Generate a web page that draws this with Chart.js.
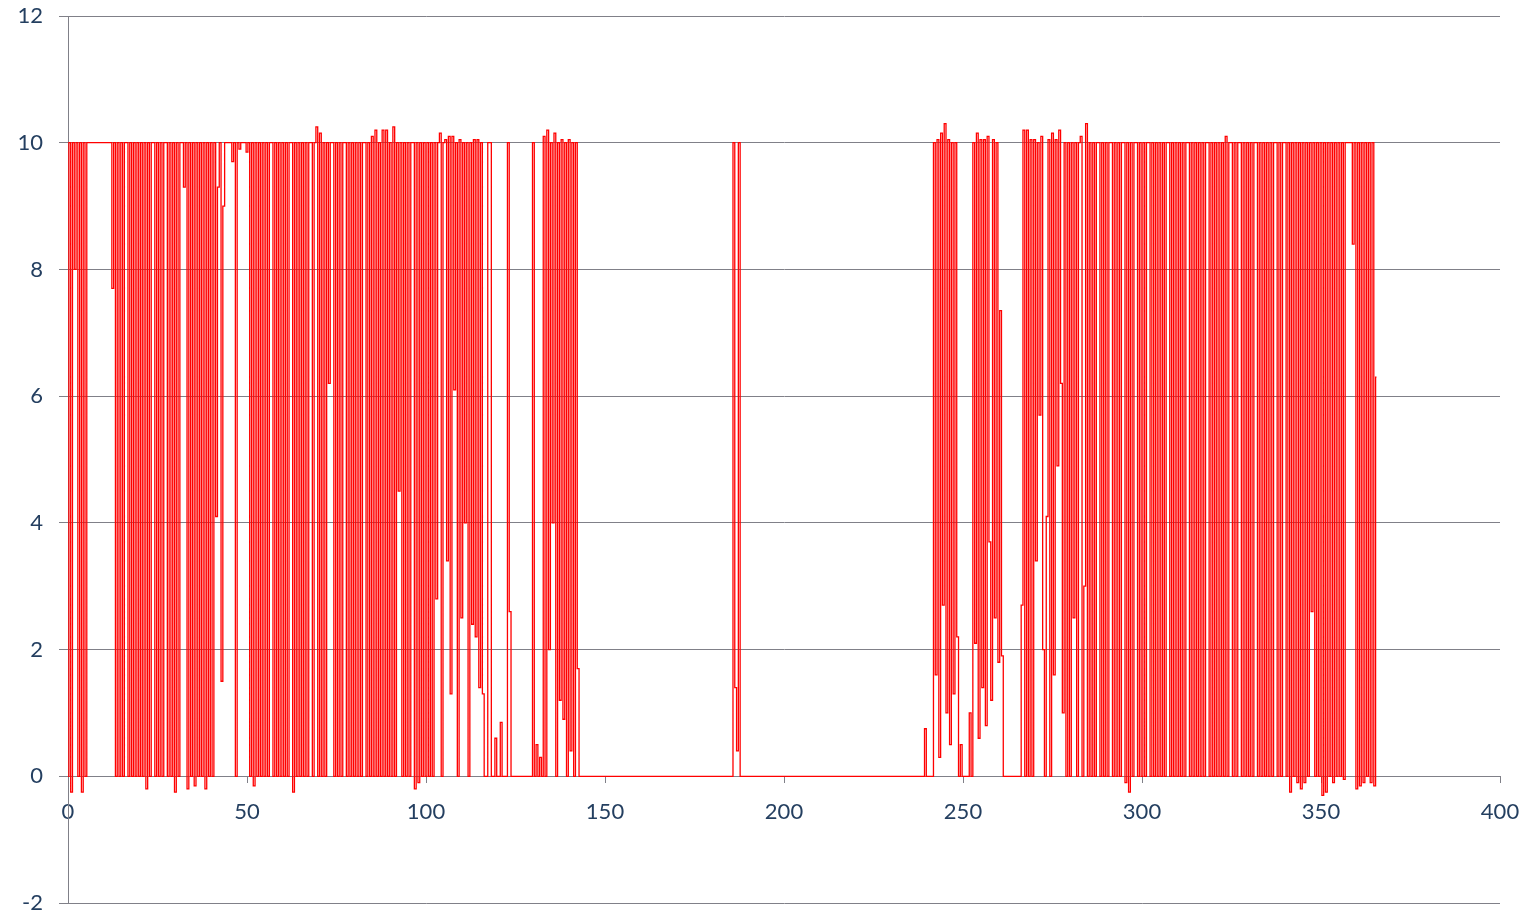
<!DOCTYPE html>
<html>
<head>
<meta charset="utf-8">
<script src="https://cdn.jsdelivr.net/npm/chart.js@4.4.1/dist/chart.umd.min.js"></script>
<style>
  html, body { margin: 0; padding: 0; background: #fff; }
  #wrap { width: 1534px; height: 913px; }
</style>
</head>
<body>
<div id="wrap"><canvas id="chart"></canvas></div>
<script>
// one reading every half day
const STEP = 0.5;

// days 0 - 49.5
const part1 = [
  0, 10, -0.25, 10, 8, 10, 0, 10, -0.25, 10,
  0, 10, 10, 10, 10, 10, 10, 10, 10, 10,
  10, 10, 10, 10, 10, 7.7, 10, 0, 10, 0,
  10, 0, 10, 10, 0, 10, 0, 10, 0, 10,
  0, 10, 0, 10, -0.2, 10, 0, 10, 10, 0,
  10, 0, 10, 0, 10, 10, 0, 10, 0, 10,
  -0.25, 10, 0, 10, 10, 9.3, 10, -0.2, 10, 0,
  10, -0.15, 10, 0, 10, 0, 10, -0.2, 10, 0,
  10, 0, 10, 4.1, 9.3, 10, 1.5, 9, 10, 10,
  10, 10, 9.7, 10, 0, 10, 9.9, 10, 10, 10
];

// days 50 - 144.5
const part2 = [
  9.85, 10, 0, 10, -0.15, 10, 0, 10, 0, 10,
  0, 10, 0, 10, 10, 0, 10, 0, 10, 0,
  10, 0, 10, 0, 10, 10, -0.25, 10, 0, 10,
  0, 10, 0, 10, 0, 10, 10, 0, 10, 10.25,
  0, 10.15, 0, 10, 0, 10, 6.2, 10, 10, 0,
  10, 0, 10, 0, 10, 10, 0, 10, 0, 10,
  0, 10, 0, 10, 0, 10, 10, 0, 10, 0,
  10.1, 0, 10.2, 0, 10, 0, 10.2, 0, 10.2, 0,
  10, 0, 10.25, 0, 10, 4.5, 10, 0, 10, 0,
  10, 0, 10, 10, -0.2, 10, -0.1, 10, 0, 10,
  0, 10, 0, 10, 0, 10, 2.8, 10, 10.15, 0,
  10, 10.05, 3.4, 10.1, 1.3, 10.1, 6.1, 10, 0, 10.05,
  2.5, 10, 4, 10, 0, 10, 2.4, 10.05, 2.2, 10.05,
  1.4, 10, 1.3, 0, 0, 10, 10, 0, 0, 0.6,
  0, 0, 0.85, 0, 0, 0, 10, 2.6, 0, 0,
  0, 0, 0, 0, 0, 0, 0, 0, 0, 0,
  10, 0, 0.5, 0, 0.3, 0, 10.1, 0, 10.2, 2,
  10, 4, 10.15, 0, 10, 1.2, 10.05, 0.9, 10, 0,
  10.05, 0.4, 10, 0, 10, 1.7, 0, 0, 0, 0
];

// days 145 - 269.5
const part3 = [
  0, 0, 0, 0, 0, 0, 0, 0, 0, 0,
  0, 0, 0, 0, 0, 0, 0, 0, 0, 0,
  0, 0, 0, 0, 0, 0, 0, 0, 0, 0,
  0, 0, 0, 0, 0, 0, 0, 0, 0, 0,
  0, 0, 0, 0, 0, 0, 0, 0, 0, 0,
  0, 0, 0, 0, 0, 0, 0, 0, 0, 0,
  0, 0, 0, 0, 0, 0, 0, 0, 0, 0,
  0, 0, 0, 0, 0, 0, 0, 0, 0, 0,
  0, 0, 10, 1.4, 0.4, 10, 0, 0, 0, 0,
  0, 0, 0, 0, 0, 0, 0, 0, 0, 0,
  0, 0, 0, 0, 0, 0, 0, 0, 0, 0,
  0, 0, 0, 0, 0, 0, 0, 0, 0, 0,
  0, 0, 0, 0, 0, 0, 0, 0, 0, 0,
  0, 0, 0, 0, 0, 0, 0, 0, 0, 0,
  0, 0, 0, 0, 0, 0, 0, 0, 0, 0,
  0, 0, 0, 0, 0, 0, 0, 0, 0, 0,
  0, 0, 0, 0, 0, 0, 0, 0, 0, 0,
  0, 0, 0, 0, 0, 0, 0, 0, 0, 0,
  0, 0, 0, 0, 0, 0, 0, 0, 0, 0.75,
  0, 0, 0, 0, 10, 1.6, 10.05, 0.3, 10.15, 2.7,
  10.3, 1, 10.05, 0.5, 10, 1.3, 10, 2.2, 0, 0.5,
  0, 0, 0, 0, 1, 0, 10, 2.1, 10.15, 0.6,
  10.05, 1.4, 10.05, 0.8, 10.1, 3.7, 1.2, 10.05, 2.5, 10,
  1.8, 7.35, 1.9, 0, 0, 0, 0, 0, 0, 0,
  0, 0, 0, 2.7, 10.2, 0, 10.2, 0, 10.05, 0
];

// days 270 - 365.5
const part4 = [
  10.05, 3.4, 10, 5.7, 10.1, 2, 0, 4.1, 10.05, 0,
  10.15, 1.6, 10.05, 4.9, 10.2, 6.2, 1, 10, 0, 10,
  0, 10, 2.5, 10, 0, 10, 10.1, 0, 3, 10.3,
  0, 10, 0, 10, 0, 10, 10, 0, 10, 0,
  10, 0, 10, 10, 0, 10, 0, 10, 0, 10,
  10, -0.1, 10, -0.25, 10, 0, 10, 10, 0, 10,
  0, 10, 0, 10, 10, 0, 10, 0, 10, 0,
  10, 0, 10, 0, 10, 10, 0, 10, 0, 10,
  0, 10, 0, 10, 0, 10, 10, 0, 10, 0,
  10, 0, 10, 0, 10, 0, 10, 10, 0, 10,
  0, 10, 0, 10, 0, 10, 0, 10.1, 0, 10,
  10, 0, 10, 0, 10, 10, 0, 10, 0, 10,
  0, 10, 0, 10, 10, 0, 10, 0, 10, 0,
  10, 0, 10, 0, 10, 10, 0, 10, 0, 10,
  10, 0, 10, -0.25, 10, 0, 10, -0.1, 10, -0.2,
  10, -0.1, 10, 0, 10, 2.6, 10, 0, 10, 0,
  10, -0.3, 10, -0.25, 10, 0, 10, -0.1, 10, 0,
  10, 0, 10, -0.05, 10, 10, 10, 10, 8.4, 10,
  -0.2, 10, -0.15, 10, -0.1, 10, 0, 10, -0.1, 10,
  -0.15, 6.3
];

const xRange = [0, 400];
const yRange = [-2, 12];

const levels = [].concat(part1, part2, part3, part4);
const points = levels.map((v, i) => ({ x: i * STEP, y: v }));

const gridGrey = '#808088';
const labelBlue = '#243f60';

new Chart(document.getElementById('chart'), {
  type: 'line',
  data: {
    datasets: [{
      data: points,
      borderColor: '#ff0000',
      borderWidth: 1.3,
      pointRadius: 0,
      stepped: 'middle',
      fill: false
    }]
  },
  options: {
    responsive: true,
    maintainAspectRatio: false,
    animation: false,
    parsing: false,
    layout: { padding: { left: 0, top: 16, right: 34, bottom: 10 } },
    plugins: { legend: { display: false }, tooltip: { enabled: false } },
    scales: {
      x: {
        type: 'linear',
        min: xRange[0], max: xRange[1],
        position: { y: 0 },
        afterFit: s => { s.height = 0; s.paddingLeft = 0; s.paddingRight = 0; },
        ticks: { stepSize: 50, color: labelBlue, padding: 16, font: { family: 'Lato', size: 22 } },
        grid: { drawOnChartArea: false, drawTicks: true, tickLength: 6, color: gridGrey },
        border: { color: gridGrey, width: 1 }
      },
      y: {
        min: yRange[0], max: yRange[1],
        afterFit: s => { s.width = 68; s.paddingTop = 0; s.paddingBottom = 0; },
        ticks: { stepSize: 2, color: labelBlue, padding: 16, font: { family: 'Lato', size: 22 } },
        grid: { color: gridGrey, lineWidth: 1, drawTicks: true, tickLength: 9 },
        border: { color: gridGrey, width: 1 }
      }
    }
  }
});
</script>
</body>
</html>
